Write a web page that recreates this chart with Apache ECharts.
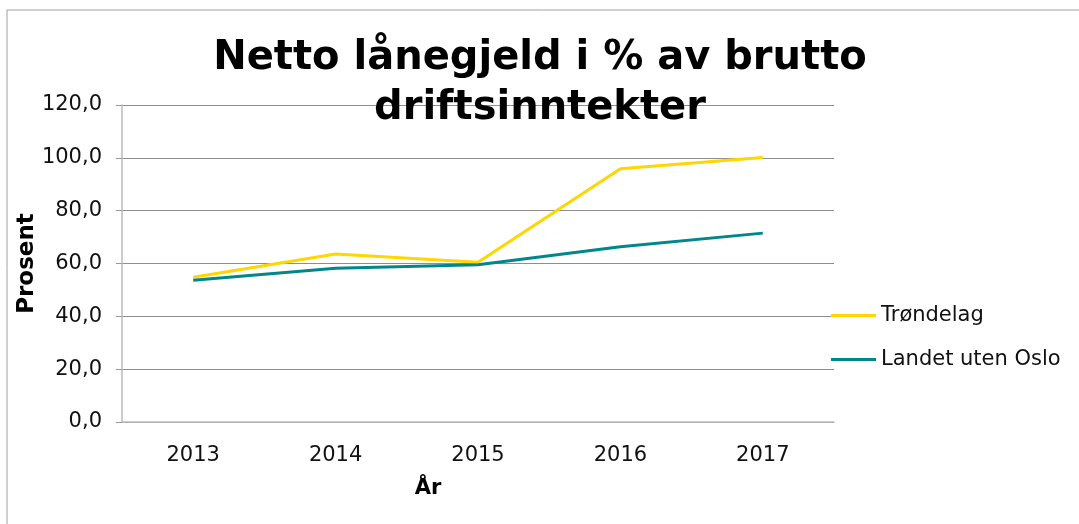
<!DOCTYPE html>
<html>
<head>
<meta charset="utf-8">
<script src="https://cdn.jsdelivr.net/npm/echarts@6/dist/echarts.min.js"></script>
<style>
  html, body { margin: 0; padding: 0; background: #fff; }
  #chart { width: 1079px; height: 524px; }
</style>
</head>
<body>
<div id="chart"></div>
<script>
// år og verdier lest av figuren
const years = ['2013', '2014', '2015', '2016', '2017']
const trondelag = [54.8, 63.6, 60.5, 95.9, 100.1]
const landetUtenOslo = [53.7, 58.2, 59.5, 66.3, 71.5]

const font = 'DejaVu Sans'
const chart = echarts.init(document.getElementById('chart'))

chart.setOption({
  animation: false,
  textStyle: { fontFamily: font },
  graphic: [{
    type: 'rect',
    shape: { x: 7, y: 10, width: 1200, height: 600 },
    style: { fill: 'none', stroke: '#a0a0a0', lineWidth: 1 },
    z: -1
  }],
  title: {
    text: 'Netto lånegjeld i % av brutto\ndriftsinntekter',
    left: 540,
    top: 34,
    padding: 0,
    textAlign: 'center',
    textStyle: {
      fontFamily: font,
      fontSize: 40,
      fontWeight: 'bold',
      color: '#000',
      lineHeight: 50
    },
    z: 10
  },
  legend: {
    orient: 'vertical',
    left: 826,
    top: 300,
    itemWidth: 45,
    itemHeight: 3,
    itemGap: 23,
    icon: 'rect',
    textStyle: { fontFamily: font, fontSize: 21, color: '#111' },
    data: ['Trøndelag', 'Landet uten Oslo']
  },
  grid: {
    left: 122,
    top: 105,
    width: 712,
    height: 317,
    containLabel: false
  },
  xAxis: {
    type: 'category',
    data: years,
    boundaryGap: true,
    name: 'År',
    nameLocation: 'middle',
    nameGap: 56,
    nameMoveOverlap: false,
    nameTextStyle: {
      fontFamily: font, fontSize: 21, fontWeight: 'bold', color: '#000',
      padding: [0, 100, 0, 0]
    },
    axisLine: { lineStyle: { color: '#bdbdbd', width: 1.5 } },
    axisTick: { length: 8, lineStyle: { color: '#bdbdbd', width: 1.5 } },
    axisLabel: { fontFamily: font, fontSize: 21, color: '#111', margin: 23 }
  },
  yAxis: {
    type: 'value',
    min: 0,
    max: 120,
    interval: 20,
    name: 'Prosent',
    nameLocation: 'middle',
    nameGap: 83,
    nameMoveOverlap: false,
    nameTextStyle: { fontFamily: font, fontSize: 23, fontWeight: 'bold', color: '#000' },
    axisLine: { show: true, lineStyle: { color: '#bdbdbd', width: 1.5 } },
    axisTick: { show: true, length: 6, lineStyle: { color: '#9a9a9a' } },
    axisLabel: {
      fontFamily: font, fontSize: 21, color: '#111', margin: 20,
      formatter: v => v.toFixed(1).replace('.', ',')
    },
    splitLine: { lineStyle: { color: '#8e8e8e', width: 1 } }
  },
  series: [
    {
      name: 'Trøndelag',
      type: 'line',
      data: trondelag,
      showSymbol: false,
      symbol: 'none',
      color: '#ffd600',
      lineStyle: { width: 3, color: '#ffd600' }
    },
    {
      name: 'Landet uten Oslo',
      type: 'line',
      data: landetUtenOslo,
      showSymbol: false,
      symbol: 'none',
      color: '#00878c',
      lineStyle: { width: 3, color: '#00878c' }
    }
  ]
})
</script>
</body>
</html>
